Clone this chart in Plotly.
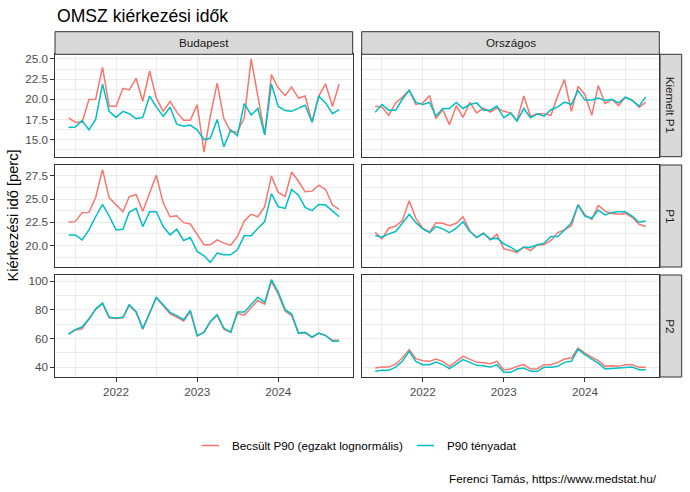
import pandas as pd
import plotly.graph_objects as go

# ---------------- data ----------------
dates = pd.date_range("2021-06-01", periods=41, freq="MS")

col_labels = ["Budapest", "Országos"]
row_labels = ["Kiemelt P1", "P1", "P2"]
series_names = ["Becsült P90 (egzakt lognormális)", "P90 tényadat"]

bp_k1_becs = [17.7, 17.15, 17.15, 19.96, 20.0, 23.97, 19.13, 19.13, 21.36, 21.16, 22.6, 19.75, 23.5, 20.17,
              18.5, 19.75, 18.4, 17.4, 17.4, 19.3, 13.45, 17.9, 22.0, 17.6, 16.0, 15.9, 17.7, 25.0, 20.4,
              15.6, 23.05, 21.4, 20.45, 21.5, 20.15, 20.4, 17.15, 20.4, 21.9, 19.1, 21.9]
bp_k1_teny = [16.5, 16.55, 17.35, 16.2, 17.5, 21.9, 18.5, 17.75, 18.5, 18.2, 17.6, 17.75, 20.4, 19.05,
              17.9, 19.0, 16.9, 16.65, 16.8, 16.2, 15.0, 15.15, 17.5, 14.1, 16.2, 15.5, 19.45, 18.05, 18.85,
              15.6, 21.9, 19.1, 18.6, 18.5, 18.9, 19.25, 17.15, 20.4, 19.55, 18.2, 18.7]
ors_k1_becs = [19.13, 19.05, 18.0, 19.55, 20.25, 21.1, 19.35, 19.55, 20.45, 17.6, 18.7, 16.85, 19.2, 17.75,
               19.6, 18.3, 18.9, 18.4, 18.9, 18.5, 18.3, 17.35, 20.4, 17.9, 18.2, 18.2, 18.0, 20.45, 22.45,
               18.5, 21.6, 20.6, 18.0, 21.7, 19.45, 20.0, 19.2, 20.25, 19.9, 19.0, 19.6]
ors_k1_teny = [18.4, 19.35, 18.65, 18.65, 20.0, 21.1, 19.6, 19.35, 19.6, 17.9, 18.85, 18.85, 19.6, 18.85,
               19.35, 19.55, 18.65, 18.65, 19.15, 17.7, 18.3, 17.3, 18.85, 17.7, 18.2, 17.9, 18.7, 19.05,
               19.65, 19.35, 21.1, 19.9, 19.9, 20.15, 19.85, 20.0, 19.55, 20.25, 19.85, 19.15, 20.3]

bp_p1_becs = [22.5, 22.57, 23.54, 23.57, 25.18, 28.18, 25.14, 24.36, 23.64, 25.25, 25.5, 23.7, 25.68, 27.57,
              24.6, 23.1, 23.2, 22.46, 22.32, 21.14, 20.07, 20.07, 20.6, 20.25, 20.04, 20.96, 22.64, 23.36,
              23.1, 24.18, 27.5, 25.7, 25.3, 27.93, 26.93, 25.79, 25.86, 26.5, 26.04, 24.36, 23.9]
bp_p1_teny = [21.14, 21.14, 20.6, 21.68, 23.1, 24.43, 23.18, 21.68, 21.75, 23.57, 24.0, 22.04, 23.64, 23.64,
              22.04, 21.14, 21.75, 20.54, 20.86, 19.36, 18.89, 18.18, 19.18, 19.0, 19.0, 19.54, 21.07, 21.04,
              21.86, 22.57, 25.6, 24.18, 24.0, 26.04, 25.43, 24.11, 23.75, 24.43, 24.36, 23.71, 23.1]
ors_p1_becs = [21.43, 20.71, 21.86, 22.1, 22.68, 24.82, 22.93, 21.86, 21.43, 22.46, 22.39, 22.14, 22.39, 23.1,
               21.57, 20.89, 21.32, 20.6, 21.21, 19.64, 19.46, 19.25, 19.82, 19.46, 20.07, 20.07, 20.54, 21.39,
               21.68, 22.14, 24.43, 23.29, 22.82, 24.32, 23.71, 23.46, 23.36, 23.46, 23.04, 22.29, 22.04]
ors_p1_teny = [21.07, 20.89, 21.25, 21.5, 22.39, 23.36, 22.46, 21.79, 21.39, 22.04, 21.79, 21.39, 21.86, 22.57,
               21.5, 20.86, 21.32, 20.68, 20.79, 20.18, 19.82, 19.36, 19.82, 19.82, 20.07, 20.25, 20.96, 20.96,
               21.68, 22.46, 24.36, 23.18, 22.93, 23.82, 23.29, 23.57, 23.64, 23.64, 23.18, 22.5, 22.64]

bp_p2_becs = [63.0, 65.9, 66.8, 73.3, 80.4, 84.6, 74.5, 74.0, 74.5, 83.2, 78.4, 66.5, 77.5, 88.5, 82.9, 77.3,
              75.0, 72.3, 78.8, 61.8, 64.2, 71.5, 76.2, 66.6, 64.2, 77.6, 76.4, 81.9, 86.6, 84.1, 100.0, 91.0,
              79.0, 76.2, 63.5, 64.0, 60.8, 63.6, 62.0, 58.7, 58.7]
bp_p2_teny = [63.1, 66.2, 68.0, 73.6, 80.6, 84.8, 74.8, 74.3, 74.8, 83.7, 79.0, 66.9, 77.8, 88.8, 83.7, 78.3,
              76.0, 73.2, 79.7, 62.0, 64.5, 72.0, 76.7, 67.3, 64.5, 78.5, 78.5, 83.7, 88.8, 85.3, 101.2, 92.3,
              80.2, 77.1, 63.8, 64.3, 61.0, 63.8, 62.2, 58.0, 58.2]
ors_p2_becs = [39.3, 40.0, 40.0, 42.1, 46.3, 52.2, 45.9, 44.5, 44.0, 45.6, 44.0, 40.5, 44.0, 47.5, 45.6, 43.3,
               43.1, 42.4, 44.0, 38.2, 38.6, 40.5, 41.7, 38.6, 38.9, 41.7, 41.7, 43.3, 45.6, 46.3, 53.3, 49.8,
               47.0, 44.5, 40.5, 41.0, 40.5, 41.7, 41.7, 39.8, 39.8]
ors_p2_teny = [37.0, 37.7, 37.7, 40.0, 44.0, 51.0, 44.0, 41.7, 41.7, 43.5, 41.7, 38.9, 42.1, 45.2, 43.3, 41.2,
               41.0, 40.0, 41.7, 36.3, 36.3, 38.6, 39.3, 37.0, 37.0, 39.8, 39.8, 40.5, 43.3, 44.0, 52.6, 48.7,
               45.6, 42.8, 38.6, 38.9, 38.9, 39.3, 40.0, 38.2, 38.2]

x_major = ["2022-01-01", "2023-01-01", "2024-01-01"]
x_major_text = ["2022", "2023", "2024"]
x_minor = ["2021-07-01", "2022-07-01", "2023-07-01", "2024-07-01"]

panels = [
    [(bp_k1_becs, bp_k1_teny), (ors_k1_becs, ors_k1_teny)],
    [(bp_p1_becs, bp_p1_teny), (ors_p1_becs, ors_p1_teny)],
    [(bp_p2_becs, bp_p2_teny), (ors_p2_becs, ors_p2_teny)],
]

# ---------------- layout helpers ----------------
W, H = 690, 492
ML, MR, MT, MB = 55, 8, 32, 115
PW, PH = W - ML - MR, H - MT - MB


def px(x):
    return (x - ML) / PW


def py(y):
    return (H - MB - y) / PH


cols_px = [(55, 352.7), (361.7, 659.3)]
rows_px = [(54.3, 156.7), (165.0, 267.0), (275.0, 377.0)]
strip_top = (31.7, 54.3)
strip_right = (660.0, 681.7)

colors = ["#F8766D", "#00BFC4"]
FONT = "Liberation Sans, Arial, sans-serif"
GRID = "#EBEBEB"
DARK = "#333333"
TICKCOL = "#4D4D4D"

# y axis ranges per row (ggplot 5% expansion of data range)
def yrange(*arrs):
    lo = min(min(a) for a in arrs)
    hi = max(max(a) for a in arrs)
    pad = (hi - lo) * 0.05
    return [lo - pad, hi + pad]

row_ticks = [dict(dtick=2.5, minor=1.25, fmt=".1f"),
             dict(dtick=2.5, minor=1.25, fmt=".1f"),
             dict(dtick=20, minor=10, fmt="d")]

d0, d1 = dates[0], dates[-1]
pad = (d1 - d0) * 0.05
xr = [(d0 - pad).strftime("%Y-%m-%d %H:%M"), (d1 + pad).strftime("%Y-%m-%d %H:%M")]

fig = go.Figure()
layout = {}
for r in range(3):
    row_series = [s for pair in panels[r] for s in pair]
    yr = yrange(*row_series)
    for c in range(2):
        idx = r * 2 + c + 1
        sfx = "" if idx == 1 else str(idx)
        becs, teny = panels[r][c]
        for k, (vals, name) in enumerate([(becs, series_names[0]), (teny, series_names[1])]):
            fig.add_trace(go.Scatter(
                x=dates, y=vals, mode="lines", name=name,
                line=dict(color=colors[k], width=1.5),
                xaxis="x" + sfx, yaxis="y" + sfx, showlegend=False,
                hovertemplate="%{x|%Y-%m}: %{y}<extra>" + name + "</extra>"))
        layout["xaxis" + sfx] = dict(
            domain=[px(cols_px[c][0]), px(cols_px[c][1])], anchor="y" + sfx,
            type="date", range=xr, tickmode="array", tickvals=x_major,
            ticktext=x_major_text, showticklabels=(r == 2),
            ticks="outside" if r == 2 else "", ticklen=3.7, tickwidth=1, tickcolor=DARK,
            tickfont=dict(family=FONT, size=11.7, color=TICKCOL),
            showgrid=True, gridcolor=GRID, gridwidth=1.1,
            minor=dict(tickmode="array", tickvals=x_minor, showgrid=True, gridcolor=GRID, gridwidth=0.55),
            showline=True, mirror=True, linecolor=DARK, linewidth=1, zeroline=False, fixedrange=True)
        layout["yaxis" + sfx] = dict(
            domain=[py(rows_px[r][1]), py(rows_px[r][0])], anchor="x" + sfx,
            range=yr, tickmode="linear", tick0=0, dtick=row_ticks[r]["dtick"],
            tickformat=row_ticks[r]["fmt"], showticklabels=(c == 0),
            ticks="outside" if c == 0 else "", ticklen=3.7, tickwidth=1, tickcolor=DARK,
            tickfont=dict(family=FONT, size=11.7, color=TICKCOL),
            showgrid=True, gridcolor=GRID, gridwidth=1.1,
            minor=dict(tickmode="linear", tick0=0, dtick=row_ticks[r]["minor"], showgrid=True,
                       gridcolor=GRID, gridwidth=0.55),
            showline=True, mirror=True, linecolor=DARK, linewidth=1, zeroline=False, fixedrange=True)

shapes = []
annotations = []
# top strips
for c in range(2):
    shapes.append(dict(type="rect", xref="paper", yref="paper",
                       x0=px(cols_px[c][0]), x1=px(cols_px[c][1]),
                       y0=py(strip_top[1]), y1=py(strip_top[0]),
                       fillcolor="#D9D9D9", line=dict(color=DARK, width=1)))
    annotations.append(dict(text=col_labels[c], xref="paper", yref="paper",
                            x=px((cols_px[c][0] + cols_px[c][1]) / 2),
                            y=py((strip_top[0] + strip_top[1]) / 2),
                            xanchor="center", yanchor="middle", showarrow=False,
                            font=dict(family=FONT, size=11.7, color="#1A1A1A")))
# right strips
for r in range(3):
    shapes.append(dict(type="rect", xref="paper", yref="paper",
                       x0=px(strip_right[0]), x1=px(strip_right[1]),
                       y0=py(rows_px[r][1]), y1=py(rows_px[r][0]),
                       fillcolor="#D9D9D9", line=dict(color=DARK, width=1)))
    annotations.append(dict(text=row_labels[r], xref="paper", yref="paper",
                            x=px((strip_right[0] + strip_right[1]) / 2),
                            y=py((rows_px[r][0] + rows_px[r][1]) / 2),
                            xanchor="center", yanchor="middle", showarrow=False, textangle=90,
                            font=dict(family=FONT, size=11.7, color="#1A1A1A")))

# title, axis title
annotations.append(dict(text="OMSZ kiérkezési idők", xref="paper", yref="paper",
                        x=px(55), y=py(15.5), xanchor="left", yanchor="middle", showarrow=False,
                        font=dict(family=FONT, size=17.6, color="#000000")))
annotations.append(dict(text="Kiérkezési idő [perc]", xref="paper", yref="paper",
                        x=px(13), y=py(215.6), xanchor="center", yanchor="middle", showarrow=False,
                        textangle=-90, font=dict(family=FONT, size=14.7, color="#000000")))

# legend (manual, ggplot style)
leg_y = 445.5
leg_items = [(201.7, 219.0, 230.0), (416.7, 434.0, 445.0)]
for k, (a, b, t) in enumerate(leg_items):
    shapes.append(dict(type="line", xref="paper", yref="paper",
                       x0=px(a), x1=px(b), y0=py(leg_y), y1=py(leg_y),
                       line=dict(color=colors[k], width=1.5)))
    annotations.append(dict(text=series_names[k], xref="paper", yref="paper",
                            x=px(t), y=py(leg_y), xanchor="left", yanchor="middle",
                            showarrow=False, font=dict(family=FONT, size=11.7, color="#000000")))

annotations.append(dict(text="Ferenci Tamás, https://www.medstat.hu/", xref="paper", yref="paper",
                        x=px(659), y=py(478.3), xanchor="right", yanchor="middle", showarrow=False,
                        font=dict(family=FONT, size=11.7, color="#000000")))

fig.update_layout(
    width=W, height=H, margin=dict(l=ML, r=MR, t=MT, b=MB, pad=0),
    paper_bgcolor="white", plot_bgcolor="white", showlegend=False,
    font=dict(family=FONT), shapes=shapes, annotations=annotations, **layout)

fig.write_html("out.html")
